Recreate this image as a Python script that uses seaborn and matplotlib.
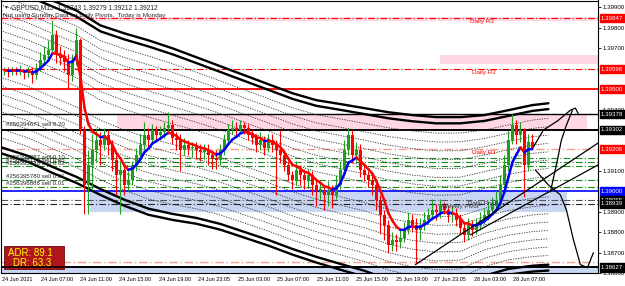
import numpy as np
import pandas as pd
import matplotlib
matplotlib.use("Agg")
import matplotlib.pyplot as plt
from matplotlib.collections import LineCollection
from matplotlib.patches import Rectangle
import seaborn as sns

# ---- GBPUSD M15 candles ----
first_open = 1.39592

closes = [
    1.39592, 1.39583, 1.39597, 1.39588, 1.39592, 1.39578, 1.39588, 1.39568, 1.39602, 1.39641,
    1.39666, 1.39690, 1.39763, 1.39666, 1.39651, 1.39631, 1.39568, 1.39641, 1.39739, 1.39300,
    1.39031, 1.39129, 1.39202, 1.39251, 1.39226, 1.39275, 1.39226, 1.39153, 1.39080, 1.39104,
    1.39031, 1.39056, 1.39129, 1.39178, 1.39226, 1.39275, 1.39251, 1.39300, 1.39275, 1.39290,
    1.39309, 1.39324, 1.39261, 1.39251, 1.39202, 1.39226, 1.39212, 1.39217, 1.39202, 1.39192,
    1.39202, 1.39178, 1.39163, 1.39153, 1.39202, 1.39251, 1.39300, 1.39309, 1.39300, 1.39324,
    1.39309, 1.39275, 1.39261, 1.39226, 1.39251, 1.39212, 1.39251, 1.39226, 1.39202, 1.39178,
    1.39129, 1.39080, 1.39056, 1.39104, 1.39080, 1.39056, 1.39080, 1.39031, 1.39007, 1.39007,
    1.38982, 1.39007, 1.38982, 1.39031, 1.39104, 1.39202, 1.39275, 1.39178, 1.39202, 1.39104,
    1.39080, 1.39056, 1.39031, 1.38958, 1.38885, 1.38836, 1.38738, 1.38763, 1.38753, 1.38773,
    1.38812, 1.38860, 1.38836, 1.38812, 1.38836, 1.38860, 1.38885, 1.38909, 1.38899, 1.38934,
    1.38909, 1.38885, 1.38894, 1.38860, 1.38821, 1.38787, 1.38836, 1.38812, 1.38836, 1.38860,
    1.38885, 1.38909, 1.38934, 1.38958, 1.39031, 1.39129, 1.39251, 1.39324, 1.39275, 1.39300,
    1.39129, 1.39243, 1.39212,
]
highs = [
    1.3961, 1.3961, 1.3961, 1.3961, 1.3962, 1.3960, 1.3961, 1.3961, 1.3963, 1.3968,
    1.3971, 1.3974, 1.3984, 1.3979, 1.3971, 1.3969, 1.3967, 1.3967, 1.3980, 1.3975,
    1.3932, 1.3920, 1.3928, 1.3931, 1.3929, 1.3931, 1.3930, 1.3925, 1.3918, 1.3915,
    1.3913, 1.3910, 1.3915, 1.3921, 1.3928, 1.3934, 1.3931, 1.3933, 1.3932, 1.3932,
    1.3934, 1.3939, 1.3935, 1.3929, 1.3928, 1.3926, 1.3925, 1.3924, 1.3924, 1.3923,
    1.3923, 1.3923, 1.3920, 1.3920, 1.3923, 1.3928, 1.3933, 1.3935, 1.3934, 1.3935,
    1.3934, 1.3933, 1.3930, 1.3928, 1.3929, 1.3927, 1.3928, 1.3928, 1.3925, 1.3930,
    1.3920, 1.3915, 1.3910, 1.3915, 1.3913, 1.3911, 1.3911, 1.3910, 1.3906, 1.3905,
    1.3903, 1.3905, 1.3903, 1.3908, 1.3915, 1.3925, 1.3931, 1.3930, 1.3924, 1.3923,
    1.3913, 1.3910, 1.3908, 1.3906, 1.3898, 1.3891, 1.3886, 1.3880, 1.3879, 1.3881,
    1.3885, 1.3890, 1.3889, 1.3887, 1.3887, 1.3890, 1.3892, 1.3896, 1.3894, 1.3896,
    1.3895, 1.3893, 1.3893, 1.3892, 1.3889, 1.3885, 1.3887, 1.3886, 1.3887, 1.3890,
    1.3892, 1.3895, 1.3897, 1.3900, 1.3908, 1.3918, 1.3930, 1.3938, 1.3935, 1.3934,
    1.3931, 1.3928, 1.39279,
]
lows = [
    1.3957, 1.3956, 1.3957, 1.3957, 1.3957, 1.3955, 1.3956, 1.3953, 1.3955, 1.3959,
    1.3963, 1.3964, 1.3967, 1.3963, 1.3962, 1.3959, 1.3950, 1.3954, 1.3962, 1.3928,
    1.3889, 1.3889, 1.3901, 1.3915, 1.3913, 1.3920, 1.3918, 1.3910, 1.3898, 1.3889,
    1.3898, 1.3900, 1.3903, 1.3910, 1.3915, 1.3920, 1.3921, 1.3923, 1.3924, 1.3925,
    1.3926, 1.3928, 1.3923, 1.3920, 1.3910, 1.3918, 1.3918, 1.3917, 1.3916, 1.3915,
    1.3916, 1.3913, 1.3911, 1.3911, 1.3913, 1.3918, 1.3923, 1.3928, 1.3927, 1.3929,
    1.3928, 1.3925, 1.3923, 1.3919, 1.3920, 1.3918, 1.3919, 1.3919, 1.3898, 1.3914,
    1.3910, 1.3905, 1.3901, 1.3903, 1.3903, 1.3901, 1.3902, 1.3898, 1.3893, 1.3896,
    1.3891, 1.3893, 1.3892, 1.3896, 1.3901, 1.3908, 1.3918, 1.3914, 1.3915, 1.3907,
    1.3905, 1.3902, 1.3898, 1.3891, 1.3879, 1.3876, 1.3870, 1.3871, 1.3871, 1.3872,
    1.3875, 1.3879, 1.3880, 1.3865, 1.3876, 1.3881, 1.3884, 1.3886, 1.3886, 1.3887,
    1.3889, 1.3885, 1.3885, 1.3883, 1.3879, 1.3875, 1.3876, 1.3878, 1.3879, 1.3881,
    1.3884, 1.3886, 1.3889, 1.3890, 1.3893, 1.3901, 1.3910, 1.3923, 1.3923, 1.3924,
    1.3897, 1.3910, 1.39212,
]

# envelope indicator: outer lines at a few bar positions
band_x = [-1, 6, 12, 18, 24, 30, 36, 42, 48, 54, 60, 66, 72, 78, 84, 90, 96, 102, 108, 114, 120, 126, 132, 136]
band_top = [1.40032, 1.39983, 1.39934, 1.39885, 1.39812, 1.39773, 1.39739, 1.39700, 1.39656, 1.39612,
            1.39568, 1.39524, 1.39480, 1.39446, 1.39427, 1.39407, 1.39387, 1.39373, 1.39363, 1.39363,
            1.39373, 1.39397, 1.39422, 1.39431]
band_bot = [1.39187, 1.39143, 1.39090, 1.39041, 1.38982, 1.38929, 1.38885, 1.38860, 1.38841, 1.38812,
            1.38773, 1.38734, 1.38690, 1.38651, 1.38616, 1.38582, 1.38538, 1.38509, 1.38494, 1.38499,
            1.38558, 1.38592, 1.38607, 1.38612]

# horizontal levels
daily_r3 = 1.39847
daily_r2 = 1.39598
red_level = 1.39500
zone_top, zone_bot = 1.39378, 1.39302
daily_r1 = 1.39206
order_levels = [1.39163, 1.39143, 1.39124, 1.39056, 1.39022]
blue_level = 1.39000
blue_zone_bot = 1.38900
weekly_pivot = 1.38955
daily_pivot = 1.38939
daily_s1 = 1.38656
support = 1.38627

# hand drawn lines
trend1_x, trend1_y = [102.75, 148.4], [1.38641, 1.39236]
trend2_x, trend2_y = [116.5, 148.4], [1.38787, 1.39129]
up_x = [132.25, 134.75, 138.25, 141.5, 142.75, 143.5]
up_y = [1.39217, 1.39300, 1.39344, 1.39397, 1.39407, 1.39378]
right_x = [136.5, 138.25, 139.25, 140.5, 142]
right_y = [1.38997, 1.39153, 1.39251, 1.39324, 1.39397]
down_x = [132.75, 136, 139, 140.5, 142.25, 144, 145.75, 147.25]
down_y = [1.39104, 1.39031, 1.38982, 1.38909, 1.38763, 1.38641, 1.38626, 1.38699]

tick_pos = [-0.5, 9.25, 19, 28.75, 38.75, 48.5, 58.5, 68.25, 78.25, 88, 98, 107.5, 117.5, 127.25]
tick_lab = ["24 Jun 2021", "24 Jun 07:00", "24 Jun 11:00", "24 Jun 15:00", "24 Jun 19:00",
            "24 Jun 23:05", "25 Jun 03:00", "25 Jun 07:00", "25 Jun 11:00", "25 Jun 15:00",
            "25 Jun 19:00", "27 Jun 23:05", "28 Jun 03:00", "28 Jun 07:00"]
price_ticks = [1.386, 1.387, 1.388, 1.389, 1.391, 1.394, 1.397, 1.398, 1.399]

sns.set_style("white")
plt.rcParams["font.family"] = ["Liberation Sans", "DejaVu Sans"]

fig = plt.figure(figsize=(6.25, 2.86), dpi=100)
ax = fig.add_axes([0.5 / 625, 13 / 286, 597.5 / 625, 272.5 / 286])
ax.set_xlim(-1, 148.4)
ax.set_ylim(1.38602, 1.39934)

pink = "#ffd6e4"
lblue = "#c9d6f3"

# zones
ax.axhspan(1.39832, 1.39851, color=pink, lw=0, zorder=0)
ax.add_patch(Rectangle((109, 1.39622), 40, 0.00044, color=pink, lw=0, zorder=0))
ax.add_patch(Rectangle((28.25, zone_bot), 117.5, zone_top - zone_bot, color=pink, lw=0, zorder=0))
ax.add_patch(Rectangle((21.5, blue_zone_bot), 119.25, blue_level - blue_zone_bot, color=lblue, lw=0, zorder=0))
ax.axhspan(1.38580, support, color=lblue, lw=0, zorder=0)

# horizontal lines
dd = (0, (6, 2, 1, 2))
ax.axhline(daily_r3, color="red", lw=0.8, ls=dd, zorder=1)
ax.axhline(daily_r2, color="red", lw=0.8, ls=dd, zorder=1)
ax.axhline(red_level, color="red", lw=1.3, zorder=1)
ax.axhline(zone_top, color="black", lw=1.0, zorder=1)
ax.axhline(zone_bot, color="black", lw=1.4, zorder=1)
ax.axhline(daily_r1, color="#f4a090", lw=1.0, ls=dd, zorder=1)
for lv in order_levels:
    ax.axhline(lv, color="#1a8c1a", lw=0.8, ls=dd, zorder=1)
ax.axhline(blue_level, color="#0000ff", lw=1.2, zorder=1)
ax.axhline(weekly_pivot, color="#555555", lw=0.8, ls=dd, zorder=1)
ax.axhline(daily_pivot, color="#222222", lw=0.8, ls=dd, zorder=1)
ax.axhline(daily_s1, color="#f4a090", lw=1.0, ls=dd, zorder=1)
ax.axhline(support, color="black", lw=1.4, zorder=1)

# envelope bands
bt = np.array(band_top)
bb = np.array(band_bot)
mid = (bt + bb) / 2
half = (bt - bb) / 2
for k in [1.0, 0.93, -0.93, -1.0]:
    sns.lineplot(x=band_x, y=mid + k * half, ax=ax, color="black", lw=1.7,
                 estimator=None, sort=False, zorder=3)
for k in [0.12, 0.22, 0.32, 0.42, 0.52, 0.62, 0.72, 0.82]:
    for s in (1, -1):
        sns.lineplot(x=band_x, y=mid + s * k * half, ax=ax, color="#333333", lw=0.6,
                     ls=(0, (1.5, 1.5)), estimator=None, sort=False, zorder=3)

# candles
n = len(closes)
idx = np.arange(n)
c = np.array(closes)
o = np.array([first_open] + closes[:-1])
h = np.maximum(np.array(highs), np.maximum(o, c))
l = np.minimum(np.array(lows), np.minimum(o, c))
col = np.where(c >= o, "#1f9e1f", "#ff0000")
ax.vlines(idx, l, h, colors=col, lw=0.8, zorder=5)
ax.bar(idx, np.maximum(np.abs(c - o), 0.00002), bottom=np.minimum(o, c), width=0.6,
       color=col, lw=0, zorder=5)

# coloured moving average
ma = pd.Series(closes).ewm(span=6, adjust=False).mean().to_numpy()
pts = np.column_stack([idx, ma])
segs = np.stack([pts[:-1], pts[1:]], axis=1)
ma_col = np.where(np.diff(ma) > 0, "#0000ff", "#ff0000")
ax.add_collection(LineCollection(segs, colors=ma_col, lw=1.8, zorder=6, capstyle="round"))

# hand drawn lines
for xs, ys in [(trend1_x, trend1_y), (trend2_x, trend2_y), (up_x, up_y), (right_x, right_y), (down_x, down_y)]:
    ax.plot(xs, ys, color="black", lw=0.9, zorder=7)

# level names
ax.text(116.5, daily_r3 - 0.00004, "Daily R3", color="red", fontsize=4.6, va="top", zorder=8)
ax.text(117, daily_r2 - 0.00004, "Daily R2", color="red", fontsize=4.6, va="top", zorder=8)
ax.text(117, daily_r1 - 0.00002, "Daily R1", color="red", fontsize=4.6, va="top", zorder=8)
ax.text(116, daily_pivot + 0.00002, "Daily Pivot", color="#333333", fontsize=4.6, va="center", zorder=8)
ax.text(109.5, daily_pivot - 0.00015, "Weekly Pivot", color="#333333", fontsize=4.6, va="center", zorder=8)

# order labels
ax.text(0.3, 1.39329, "#256394671 sell 0.20", fontsize=4.4, va="center", zorder=8)
ax.text(0.3, 1.39165, "#256394987 sell 0.10", fontsize=4.4, va="center", zorder=8)
ax.text(0.5, 1.39150, "#256395123 sell 0.05", fontsize=4.4, va="center", zorder=8)
ax.text(0.3, 1.39135, "#256395310 sell 0.02", fontsize=4.4, va="center", zorder=8)
ax.text(0.3, 1.39073, "#256395780 sell 0.01", fontsize=4.4, va="center", zorder=8)
ax.text(0.3, 1.39036, "#256396888 sell 0.01", fontsize=4.4, va="center", zorder=8)

# header
ax.text(0.004, 0.975, "\u25bc", transform=ax.transAxes, fontsize=3.5, va="center", zorder=8)
ax.text(0.017, 0.975, "GBPUSD,M15  1.39243 1.39279 1.39212 1.39212", transform=ax.transAxes,
        fontsize=4.8, va="center", zorder=8)
ax.text(0.004, 0.945, "Not using Sunday Data for Daily Pivots.  Today is Monday", transform=ax.transAxes,
        fontsize=4.6, va="center", zorder=8)

# ADR box
ax.add_patch(Rectangle((3 / 597.5, 4.5 / 272.5), 60 / 597.5, 23 / 272.5, transform=ax.transAxes,
                       fc="#b0141c", ec="#6a0a0a", lw=0.6, zorder=9))
ax.text(7 / 597.5, 1 - 252 / 272.5, "ADR: 89.1", transform=ax.transAxes, color="#ffff00",
        fontsize=7, va="center", zorder=10)
ax.text(13 / 597.5, 1 - 262.5 / 272.5, "DR: 63.3", transform=ax.transAxes, color="#ffff00",
        fontsize=7, va="center", zorder=10)
ax.plot([0, 63 / 597.5], [1 - 266.5 / 272.5] * 2, transform=ax.transAxes, color="black", lw=1.2, zorder=10)

# axes
ax.set_yticks(price_ticks)
ax.yaxis.set_major_formatter(matplotlib.ticker.FormatStrFormatter("%.5f"))
ax.yaxis.tick_right()
ax.tick_params(axis="y", labelsize=4.4, length=2, pad=1.5, width=0.6, colors="black")
ax.set_xticks(tick_pos)
ax.set_xticklabels(tick_lab, ha="left")
ax.tick_params(axis="x", labelsize=4.0, length=2, pad=1, width=0.6, colors="black")
for sp in ax.spines.values():
    sp.set_color("black")
    sp.set_linewidth(0.8)
ax.set_xlabel("")
ax.set_ylabel("")

# price boxes on the right scale
boxes = [(daily_r3, "#ff0000"), (daily_r2, "#ff0000"), (red_level, "#ff0000"),
         (zone_top, "black"), (zone_bot, "black"), (daily_r1, "#ff0000"),
         (blue_level, "#0000ff"), (weekly_pivot, "black"), (daily_pivot, "black"), (support, "black")]
for lv, bc in boxes:
    ax.annotate(f"{lv:.5f}", xy=(1, lv), xycoords=("axes fraction", "data"), xytext=(2.2, 0),
                textcoords="offset points", fontsize=4.4, color="white", va="center", ha="left",
                bbox=dict(boxstyle="square,pad=0.25", fc=bc, ec=bc), annotation_clip=False, zorder=12)

fig.savefig("out.png", dpi=100)
